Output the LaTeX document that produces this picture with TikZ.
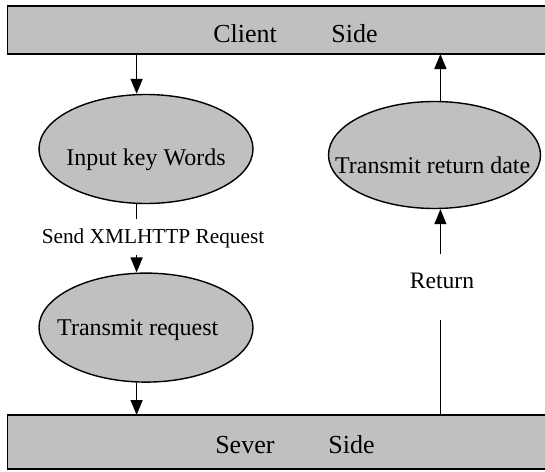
\documentclass[tikz,border=0pt]{standalone}
\usepackage{fontspec}
\setmainfont{Liberation Serif}
\usetikzlibrary{shapes.geometric,arrows.meta}
\definecolor{boxgray}{RGB}{192,192,192}
\tikzset{
  bar/.style={draw=black, fill=boxgray, line width=1.8pt},
  bartext/.style={font=\fontsize{26}{30}\selectfont, inner sep=0pt, anchor=base},
  stagetext/.style={font=\fontsize{24}{28}\selectfont, inner sep=0pt, anchor=base},
  stage/.style={ellipse, draw=black, fill=boxgray, line width=1.4pt, inner sep=0pt,
    minimum width=214pt, minimum height=109pt},
  flow/.style={line width=1.4pt, -{Triangle[width=12pt,length=15pt]}},
  plain/.style={line width=1.4pt},
  tag/.style={inner sep=0pt, anchor=base},
}
\begin{document}
\begin{tikzpicture}[x=1pt,y=-1pt]
\useasboundingbox (0,0) rectangle (545,471);
\fill[white] (0,0) rectangle (545,471);

% client and server bars
\draw[bar] (7.5,6) rectangle (552,54);
\node[bartext] (client) at (295.5,42.7) {Client\hspace{54.5pt}Side};
\coordinate (topbar) at (0,54);
\draw[bar] (7.5,415) rectangle (552,469);
\node[bartext] (server) at (295,453) {Sever\hspace{54pt}Side};
\coordinate (botbar) at (0,415);

% columns of the two flows
\coordinate (colL) at (136.6,0);
\coordinate (colR) at (440.4,0);

% stages (text is set as a centred label so the outline keeps its size)
\node[stage, label={[stagetext, yshift=-10.5pt]center:Input key Words}]
      (input) at (146,149) {};
\node[stage, label={[stagetext, xshift=-8.2pt, yshift=-2.4pt]center:Transmit request}]
      (request) at (146,327.6) {};
\node[stage, minimum width=212pt, minimum height=107pt,
      label={[stagetext, xshift=-1.8pt, yshift=-10pt]center:Transmit return date}]
      (reply) at (434.5,155) {};

% labels on the connectors
\node[tag, font=\fontsize{21.3}{25}\selectfont] (send) at (153,243) {Send XMLHTTP Request};
\node[tag, font=\fontsize{23.6}{27}\selectfont] (ret) at (442,288) {Return};

% left-hand flow
\draw[flow] (colL |- topbar) -- (colL |- input.north);
\draw[plain] (colL |- input.south) -- (colL |- 0,218.7) coordinate (sendtop);
\coordinate (sendbot) at (136.6,255);
\draw[flow] (sendbot) -- (colL |- request.north);
\draw[flow] (colL |- request.south) -- (colL |- botbar);

% right-hand flow
\coordinate (retbot) at (440.4,319.5);
\coordinate (rettop) at (440.4,254);
\draw[plain] (colR |- botbar) -- (retbot);
\draw[flow] (rettop) -- (colR |- reply.south);
\draw[flow] (colR |- reply.north) -- (colR |- topbar);
\end{tikzpicture}
\end{document}
